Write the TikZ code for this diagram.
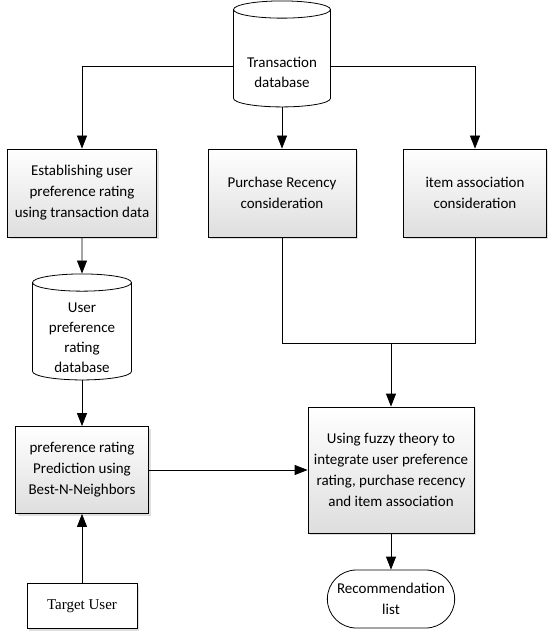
\documentclass[tikz,border=0pt]{standalone}
\usepackage{fontspec}
\setmainfont{Carlito}
\newfontfamily\tnrfont{Liberation Serif}
\usetikzlibrary{arrows.meta, shapes.geometric, shapes.misc, shadows}
\tikzset{
    my-box/.style={
        draw, rectangle, align=center, top color=white, bottom color=black!13,
        drop shadow={shadow xshift=2pt, shadow yshift=-2pt, opacity=.25},
        font=\fontsize{15}{21}\selectfont
    },
    my-db/.style={
        draw, cylinder, shape border rotate=90, aspect=.19, fill=white,
        text width=84pt
    },
    my-dbtext/.style={
        align=center, font=\fontsize{15}{20}\selectfont
    },
    my-term/.style={
        draw, rounded rectangle, fill=white, align=center,
        font=\fontsize{15}{21}\selectfont
    },
    my-arrow/.style={
        -{Triangle[length=13pt, width=10pt]}
    },
}

\begin{document}
\begin{tikzpicture}[x=1pt, y=-1pt, line width=.8pt]

        \useasboundingbox (0,0) rectangle (547,631);

        % DATABASES
        \node[my-db, minimum width=97pt, minimum height=106pt]  (TDB) at (282,60)  {};
        \node[my-dbtext] (TDBTXT) at ([yshift=-12pt]TDB.center) {Transaction\\database};
        \node[my-db, minimum width=99pt, minimum height=106pt]  (UDB) at (82,333)  {};
        \node[my-dbtext] (UDBTXT) at ([yshift=-5pt]UDB.center) {User\\preference\\rating\\database};

        % PROCESS BOXES
        \node[my-box, minimum width=149pt, minimum height=88pt] (ESTAB) at (82,193)  {Establishing user\\preference rating\\using transaction data};
        \node[my-box, minimum width=148pt, minimum height=88pt] (PURCH) at (282,193) {Purchase Recency\\consideration};
        \node[my-box, minimum width=143pt, minimum height=88pt] (ITEM)  at (475,193) {item association\\consideration};
        \node[my-box, minimum width=133pt, minimum height=87pt] (PRED)  at (82,470)  {preference rating\\Prediction using\\Best-N-Neighbors};
        \node[my-box, minimum width=166pt, minimum height=126pt] (FUZZY) at (391,470) {Using fuzzy theory to\\integrate user preference\\rating, purchase recency\\and item association};
        \node[my-box, top color=white, bottom color=white, minimum width=110pt, minimum height=45pt,
              font=\tnrfont\fontsize{15}{18}\selectfont] (TARGET) at (82,606) {Target User};

        % OUTPUT
        \node[my-term, minimum width=134pt, minimum height=58pt] (REC) at (391,599) {Recommendation\\list};

        % CONNECTOR POINTS
        \coordinate (JOIN) at (391,343);

        % FROM TRANSACTION DATABASE
        \draw[my-arrow] ([yshift=-6pt]TDB.west) -| (ESTAB.north);
        \draw[my-arrow] ([yshift=-6pt]TDB.east) -| (ITEM.north);
        \draw[my-arrow] (TDB.south) -- (PURCH.north);

        % LEFT BRANCH
        \draw[my-arrow] (ESTAB.south) -- (UDB.north);
        \draw[my-arrow] (UDB.south) -- (PRED.north);
        \draw[my-arrow] (TARGET.north) -- (PRED.south);

        % RIGHT BRANCH
        \draw (PURCH.south) |- (JOIN);
        \draw (ITEM.south) |- (JOIN);
        \draw[my-arrow] (JOIN) -- (FUZZY.north);
        \draw[my-arrow] (PRED.east) -- (FUZZY.west);
        \draw[my-arrow] (FUZZY.south) -- (REC.north);

    \end{tikzpicture}
\end{document}
